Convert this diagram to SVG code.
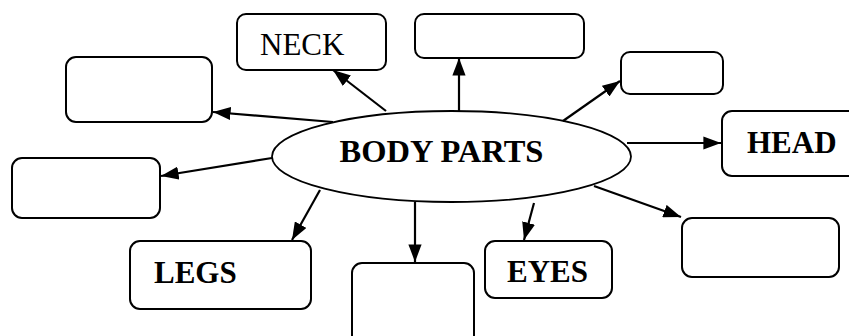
<svg xmlns="http://www.w3.org/2000/svg" width="849" height="336" viewBox="0 0 849 336">
<style>
.box{fill:#fff;stroke:#000;stroke-width:2}
.lbl{font-family:"Liberation Serif","Times New Roman",serif;font-size:31px;fill:#000}
.b{font-weight:bold}
.con line{stroke:#000;stroke-width:2.2;marker-end:url(#ah)}
</style>
<defs>
<marker id="ah" markerWidth="8" markerHeight="6" refX="8" refY="3" orient="auto" markerUnits="strokeWidth">
<path d="M0,0 L8,3 L0,6 Z" fill="#000"/>
</marker>
</defs>
<g id="center">
<ellipse cx="451.5" cy="156.5" rx="179.5" ry="45.5" fill="#fff" stroke="#000" stroke-width="1.8"/>
<text class="lbl b" x="441.5" y="162" text-anchor="middle" style="font-size:32.5px">BODY PARTS</text>
</g>
<g id="neck"><rect class="box" x="237" y="14" width="149" height="56" rx="9"/><text class="lbl" x="260" y="55">NECK</text></g>
<g id="topmid"><rect class="box" x="415" y="14" width="169" height="44" rx="9"/></g>
<g id="leftup"><rect class="box" x="66" y="57" width="146" height="65" rx="10"/></g>
<g id="leftlow"><rect class="box" x="12" y="158" width="148" height="60" rx="10"/></g>
<g id="rightsmall"><rect class="box" x="621" y="52" width="102" height="42" rx="9"/></g>
<g id="head"><rect class="box" x="722" y="111" width="140" height="65" rx="10"/><text class="lbl b" x="747" y="153">HEAD</text></g>
<g id="rightlow"><rect class="box" x="682" y="218" width="157" height="59" rx="10"/></g>
<g id="legs"><rect class="box" x="130" y="241" width="181" height="68" rx="10"/><text class="lbl b" x="154" y="283">LEGS</text></g>
<g id="botmid"><rect class="box" x="352" y="263" width="122" height="85" rx="10"/></g>
<g id="eyes"><rect class="box" x="485" y="241" width="127" height="57" rx="10"/><text class="lbl b" x="507" y="282">EYES</text></g>
<g id="connectors" class="con">
<line x1="386" y1="111" x2="333" y2="70"/>
<line x1="459" y1="111" x2="459" y2="58"/>
<line x1="333" y1="122" x2="213" y2="112"/>
<line x1="272" y1="158" x2="161" y2="176"/>
<line x1="563" y1="121" x2="620" y2="81"/>
<line x1="627" y1="143" x2="721" y2="143"/>
<line x1="594" y1="186" x2="681" y2="217"/>
<line x1="320" y1="190" x2="292" y2="240"/>
<line x1="415" y1="202" x2="415" y2="262"/>
<line x1="534" y1="203" x2="524" y2="240"/>
</g>
</svg>
